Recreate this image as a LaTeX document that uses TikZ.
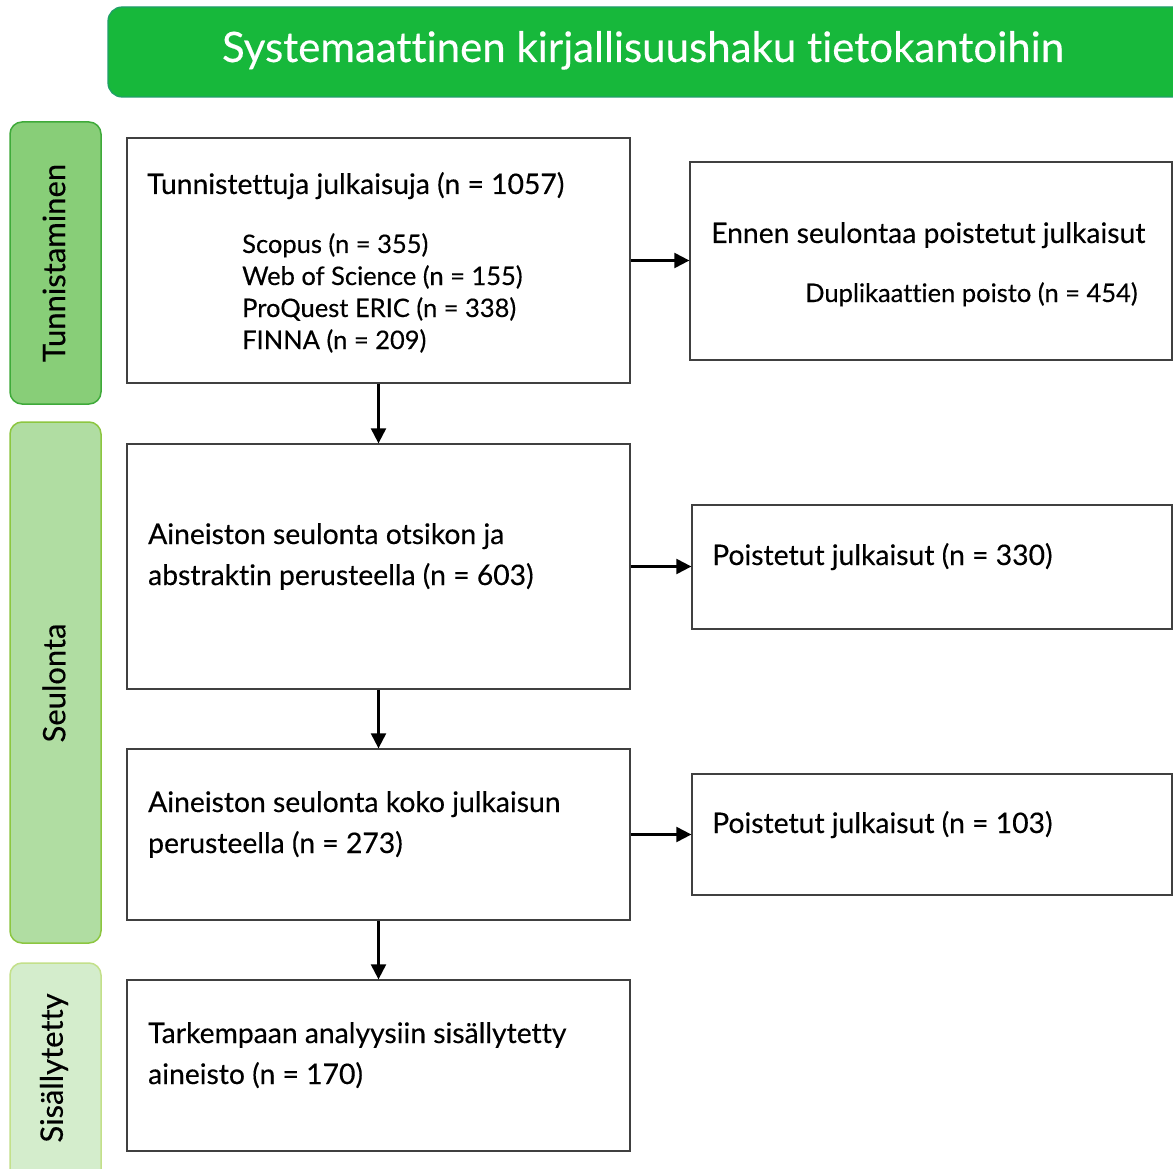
\documentclass[tikz,border=0pt]{standalone}
\usepackage{fontspec}
\setmainfont[Ligatures={NoCommon},FakeBold=0.3]{Lato}
\usetikzlibrary{arrows.meta}
\definecolor{hdrfill}{HTML}{17B83B}
\definecolor{hdrline}{HTML}{1F9E6A}
\definecolor{tunfill}{HTML}{88CE78}
\definecolor{tunline}{HTML}{3FAA3A}
\definecolor{seufill}{HTML}{B0DDA2}
\definecolor{seuline}{HTML}{8CC640}
\definecolor{sisfill}{HTML}{D4EDCC}
\definecolor{sisline}{HTML}{C3E08A}
\definecolor{boxline}{HTML}{404040}
\begin{document}
\begin{tikzpicture}[x=1pt,y=-1pt,
  flowbox/.style={draw=boxline, line width=1.3pt, fill=white, rectangle, inner sep=0pt},
  sidebar/.style={rectangle, rounded corners=12pt, line width=1.5pt, inner sep=0pt, minimum width=91pt},
  bodytext/.style={anchor=base west, inner sep=0pt, font=\fontsize{28.3}{34}\selectfont, text=black},
  subtext/.style={anchor=base west, inner sep=0pt, font=\fontsize{25.5}{30}\selectfont, text=black},
  sidetext/.style={rotate=90, inner sep=0pt, font=\fontsize{31}{36}\selectfont, text=black},
  arr/.style={draw=black, line width=2.2pt, -{Triangle[length=15pt,width=15pt]}}]
\clip (0,0) rectangle (1173,1169);
\fill[white] (0,0) rectangle (1173,1169);
% header
\node[rectangle, rounded corners=14pt, fill=hdrfill, draw=hdrline, line width=1.2pt,
  minimum width=1090pt, minimum height=90pt, inner sep=0pt] (hdr) at (653,52) {};
\node[anchor=base, inner sep=0pt, text=white, font=\fontsize{42}{48}\selectfont] (hdrtxt) at (643,62)
  {Systemaattinen kirjallisuushaku tietokantoihin};
% side bars
\node[sidebar, fill=tunfill, draw=tunline, minimum height=282pt] (sb1) at (55.5,263) {};
\node[sidebar, fill=seufill, draw=seuline, minimum height=521pt] (sb2) at (55.5,682.5) {};
\node[sidebar, fill=sisfill, draw=sisline, minimum height=230pt] (sb3) at (55.5,1078) {};
\node[sidetext] (sb1t) at (54,263) {Tunnistaminen};
\node[sidetext] (sb2t) at (54,683) {Seulonta};
\node[sidetext] (sb3t) at (54,1068) {Sisällytetty};
% main boxes
\node[flowbox, minimum width=503pt, minimum height=245pt] (b1) at (378.5,260.5) {};
\node[flowbox, minimum width=503pt, minimum height=245pt] (b2) at (378.5,566.5) {};
\node[flowbox, minimum width=503pt, minimum height=171pt] (b3) at (378.5,834.5) {};
\node[flowbox, minimum width=503pt, minimum height=171pt] (b4) at (378.5,1065.5) {};
% right boxes
\node[flowbox, minimum width=482pt, minimum height=198pt] (r1) at (931,261) {};
\node[flowbox, minimum width=480pt, minimum height=124pt] (r2) at (932,567) {};
\node[flowbox, minimum width=480pt, minimum height=121pt] (r3) at (932,834.5) {};
% texts
\node[bodytext] (t1) at (147,194) {Tunnistettuja julkaisuja (n = 1057)};
\node[subtext] (t1a) at (242,253) {Scopus (n = 355)};
\node[subtext] (t1b) at (242,285) {Web of Science (n = 155)};
\node[subtext] (t1c) at (242,317) {ProQuest ERIC (n = 338)};
\node[subtext] (t1d) at (242,349) {FINNA (n = 209)};
\node[bodytext] (tr1) at (711,243) {Ennen seulontaa poistetut julkaisut};
\node[subtext] (tr1a) at (805,302) {Duplikaattien poisto (n = 454)};
\node[bodytext] (t2) at (148,544) {Aineiston seulonta otsikon ja};
\node[bodytext] (t2b) at (148,585) {abstraktin perusteella (n = 603)};
\node[bodytext] (tr2) at (712,565) {Poistetut julkaisut (n = 330)};
\node[bodytext] (t3) at (148,812) {Aineiston seulonta koko julkaisun};
\node[bodytext] (t3b) at (148,853) {perusteella (n = 273)};
\node[bodytext] (tr3) at (712,833) {Poistetut julkaisut (n = 103)};
\node[bodytext] (t4) at (148,1043) {Tarkempaan analyysiin sisällytetty};
\node[bodytext] (t4b) at (148,1084) {aineisto (n = 170)};
% arrows
\draw[arr] (b1.south) -- (b2.north);
\draw[arr] (b2.south) -- (b3.north);
\draw[arr] (b3.south) -- (b4.north);
\draw[arr] (b1.east) -- (b1.east -| r1.west);
\draw[arr] (b2.east) -- (b2.east -| r2.west);
\draw[arr] (b3.east) -- (b3.east -| r3.west);
\end{tikzpicture}
\end{document}
